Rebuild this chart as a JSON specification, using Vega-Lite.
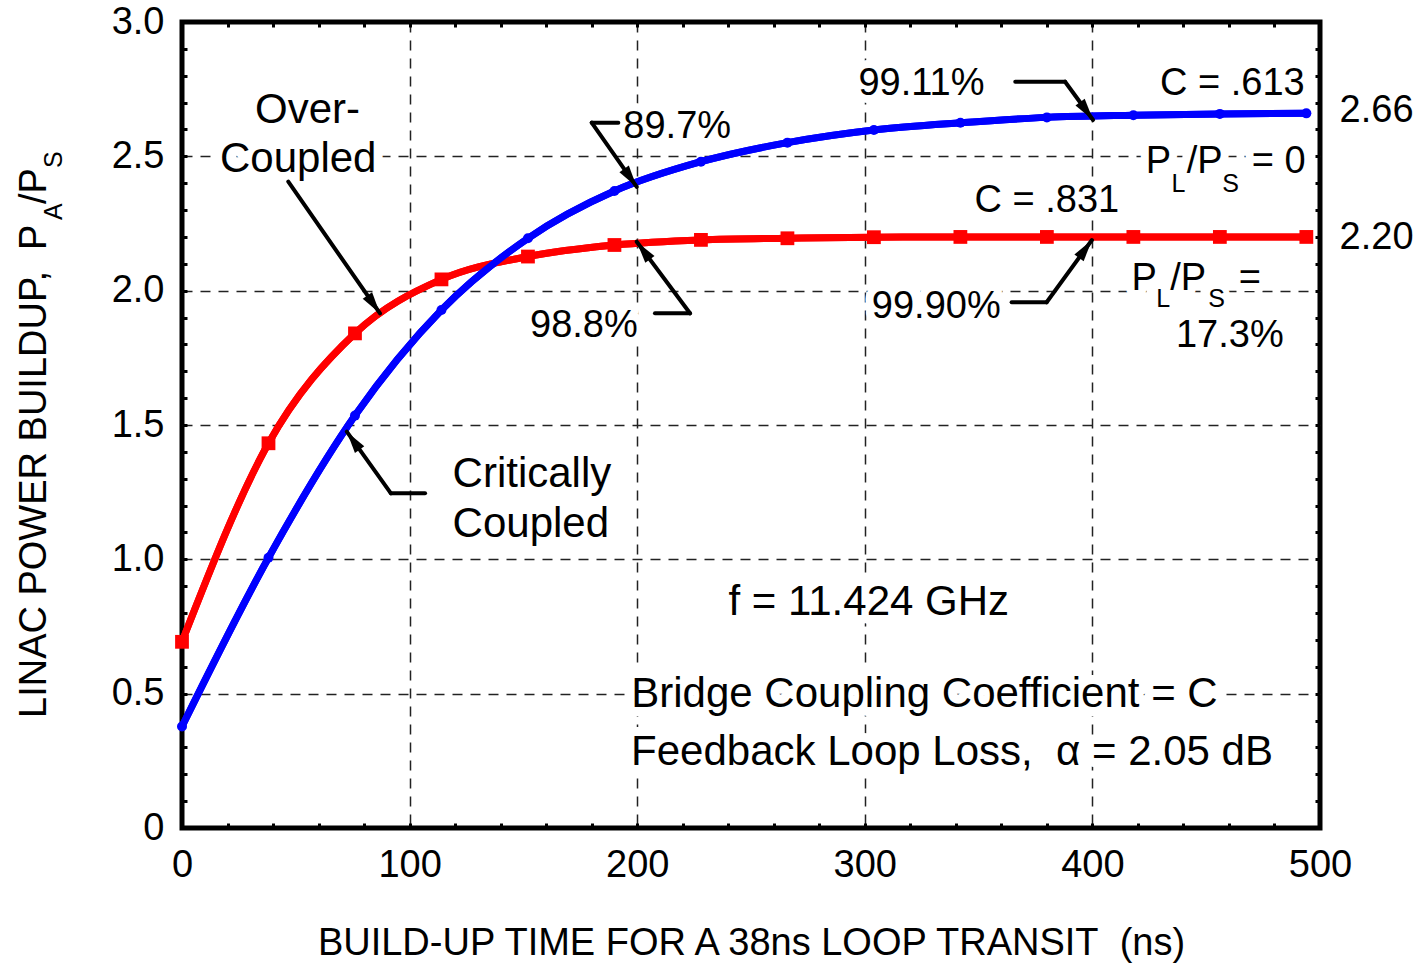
{
  "$schema": "https://vega.github.io/schema/vega-lite/v6.json",
  "width": 1138,
  "height": 806,
  "autosize": {"type": "none"},
  "padding": {"left": 182, "top": 22, "right": 103, "bottom": 138},
  "background": "white",
  "config": {
    "view": {"stroke": "black", "strokeWidth": 5},
    "text": {"font": "Liberation Sans", "color": "black"},
    "axis": {"labelFont": "Liberation Sans", "titleFont": "Liberation Sans"}
  },
  "datasets": {
    "curves": [
      {"series": "Over-Coupled", "time_ns": 0, "power": 0.693},
      {"series": "Over-Coupled", "time_ns": 38, "power": 1.432},
      {"series": "Over-Coupled", "time_ns": 76, "power": 1.841},
      {"series": "Over-Coupled", "time_ns": 114, "power": 2.042},
      {"series": "Over-Coupled", "time_ns": 152, "power": 2.127},
      {"series": "Over-Coupled", "time_ns": 190, "power": 2.17},
      {"series": "Over-Coupled", "time_ns": 228, "power": 2.189},
      {"series": "Over-Coupled", "time_ns": 266, "power": 2.195},
      {"series": "Over-Coupled", "time_ns": 304, "power": 2.199},
      {"series": "Over-Coupled", "time_ns": 342, "power": 2.2},
      {"series": "Over-Coupled", "time_ns": 380, "power": 2.2},
      {"series": "Over-Coupled", "time_ns": 418, "power": 2.2},
      {"series": "Over-Coupled", "time_ns": 456, "power": 2.2},
      {"series": "Over-Coupled", "time_ns": 494, "power": 2.2},
      {"series": "Critically Coupled", "time_ns": 0, "power": 0.378},
      {"series": "Critically Coupled", "time_ns": 38, "power": 1.006},
      {"series": "Critically Coupled", "time_ns": 76, "power": 1.535},
      {"series": "Critically Coupled", "time_ns": 114, "power": 1.928},
      {"series": "Critically Coupled", "time_ns": 152, "power": 2.195},
      {"series": "Critically Coupled", "time_ns": 190, "power": 2.371},
      {"series": "Critically Coupled", "time_ns": 228, "power": 2.48},
      {"series": "Critically Coupled", "time_ns": 266, "power": 2.551},
      {"series": "Critically Coupled", "time_ns": 304, "power": 2.598},
      {"series": "Critically Coupled", "time_ns": 342, "power": 2.625},
      {"series": "Critically Coupled", "time_ns": 380, "power": 2.645},
      {"series": "Critically Coupled", "time_ns": 418, "power": 2.653},
      {"series": "Critically Coupled", "time_ns": 456, "power": 2.658},
      {"series": "Critically Coupled", "time_ns": 494, "power": 2.66}
    ],
    "notes_big": [
      {"text": "Over-", "x": 32.1, "y": 2.623},
      {"text": "Coupled", "x": 16.7, "y": 2.443},
      {"text": "Critically", "x": 118.9, "y": 1.27},
      {"text": "Coupled", "x": 118.9, "y": 1.084},
      {"text": "f = 11.424 GHz", "x": 240.1, "y": 0.793},
      {"text": "Bridge Coupling Coefficient = C", "x": 197.4, "y": 0.4515},
      {"text": "Feedback Loop Loss,\u00a0 α = 2.05 dB", "x": 197.3, "y": 0.2345}
    ],
    "notes_small": [
      {"text": "89.7%", "x": 193.9, "y": 2.57},
      {"text": "98.8%", "x": 152.9, "y": 1.829},
      {"text": "99.11%", "x": 297.2, "y": 2.728},
      {"text": "C = .613", "x": 429.7, "y": 2.728},
      {"text": "C = .831", "x": 348.2, "y": 2.294},
      {"text": "99.90%", "x": 303.1, "y": 1.897},
      {"text": "17.3%", "x": 436.7, "y": 1.791},
      {"text": "2.66", "x": 508.6, "y": 2.629},
      {"text": "2.20", "x": 508.6, "y": 2.155},
      {"text": "P", "x": 423.4, "y": 2.437},
      {"text": "/P", "x": 441.4, "y": 2.437},
      {"text": "= 0", "x": 470.0, "y": 2.437},
      {"text": "P", "x": 417.2, "y": 2.0025},
      {"text": "/P", "x": 434.2, "y": 2.0025},
      {"text": "=", "x": 464.3, "y": 2.0025}
    ],
    "notes_sub": [
      {"text": "L", "x": 434.8, "y": 2.368},
      {"text": "S", "x": 457.1, "y": 2.368},
      {"text": "L", "x": 428.0, "y": 1.939},
      {"text": "S", "x": 450.9, "y": 1.939}
    ],
    "ytitle_main": [
      {"text": "LINAC POWER BUILDUP,\u00a0 P", "x": -59.75, "y": 0.4094},
      {"text": "/P", "x": -59.75, "y": 2.3225}
    ],
    "ytitle_sub": [
      {"text": "A", "x": -52.7, "y": 2.263},
      {"text": "S", "x": -52.7, "y": 2.4565}
    ],
    "arrows": [
      {"id": "over", "x": 46.7, "y": 2.4056, "x2": 87.0, "y2": 1.9152},
      {"id": "p897", "x": 180.0, "y": 2.6253, "x2": 191.7, "y2": 2.6253},
      {"id": "p897", "x": 180.0, "y": 2.6253, "x2": 199.8, "y2": 2.3862},
      {"id": "p988", "x": 207.8, "y": 1.9157, "x2": 223.2, "y2": 1.9157},
      {"id": "p988", "x": 223.2, "y": 1.9157, "x2": 199.8, "y2": 2.1822},
      {"id": "p9911", "x": 366.1, "y": 2.7778, "x2": 388.0, "y2": 2.7778},
      {"id": "p9911", "x": 388.0, "y": 2.7778, "x2": 400.3, "y2": 2.6353},
      {"id": "p9990", "x": 364.5, "y": 1.9567, "x2": 379.9, "y2": 1.9567},
      {"id": "p9990", "x": 379.9, "y": 1.9567, "x2": 399.8, "y2": 2.1886},
      {"id": "crit", "x": 91.8, "y": 1.2458, "x2": 106.8, "y2": 1.2458},
      {"id": "crit", "x": 91.8, "y": 1.2458, "x2": 72.4, "y2": 1.4751}
    ],
    "heads": [
      {"id": "over", "x": 87.0, "y": 1.9152},
      {"id": "p897", "x": 199.8, "y": 2.3862},
      {"id": "p988", "x": 199.8, "y": 2.1822},
      {"id": "p9911", "x": 400.3, "y": 2.6353},
      {"id": "p9990", "x": 399.8, "y": 2.1886},
      {"id": "crit", "x": 72.4, "y": 1.4751}
    ]
  },
  "encoding": {
    "x": {"field": "x", "type": "quantitative", "scale": {"domain": [0, 500], "nice": false, "zero": false}, "axis": null},
    "y": {"field": "y", "type": "quantitative", "scale": {"domain": [0, 3], "nice": false, "zero": false}, "axis": null}
  },
  "resolve": {"axis": {"x": "independent", "y": "independent"}},
  "layer": [
    {
      "data": {"name": "curves"},
      "transform": [{"filter": "datum.series === 'Over-Coupled'"}],
      "mark": {"type": "line", "color": "#ff0000", "strokeWidth": 7, "interpolate": "monotone"},
      "encoding": {
        "x": {
          "field": "time_ns", "type": "quantitative",
          "scale": {"domain": [0, 500], "nice": false, "zero": false},
          "axis": {
            "orient": "bottom",
            "values": [0, 20, 40, 60, 80, 100, 120, 140, 160, 180, 200, 220, 240, 260, 280, 300, 320, 340, 360, 380, 400, 420, 440, 460, 480, 500],
            "labelExpr": "datum.value % 100 === 0 ? datum.label : ''",
            "labelFontSize": 38, "labelColor": "black", "labelPadding": 23,
            "labelOverlap": false, "labelFlush": false, "labelBound": false,
            "tickSize": -5, "tickWidth": 3, "tickColor": "black",
            "domain": false,
            "grid": true, "gridColor": "#222222", "gridWidth": 1.5, "gridDash": [10, 8],
            "gridOpacity": {"condition": {"test": "datum.value % 100 === 0 && datum.value > 0 && datum.value < 500", "value": 1}, "value": 0},
            "title": "BUILD-UP TIME FOR A 38ns LOOP TRANSIT\u00a0 (ns)",
            "titleFontSize": 38, "titleFontWeight": "normal", "titleColor": "black", "titlePadding": 40
          }
        },
        "y": {
          "field": "power", "type": "quantitative",
          "scale": {"domain": [0, 3], "nice": false, "zero": false},
          "axis": {
            "orient": "left",
            "values": [0, 0.1, 0.2, 0.3, 0.4, 0.5, 0.6, 0.7, 0.8, 0.9, 1, 1.1, 1.2, 1.3, 1.4, 1.5, 1.6, 1.7, 1.8, 1.9, 2, 2.1, 2.2, 2.3, 2.4, 2.5, 2.6, 2.7, 2.8, 2.9, 3],
            "labelExpr": "abs(datum.value * 2 - round(datum.value * 2)) < 0.001 ? (datum.value == 0 ? '0' : format(datum.value, '.1f')) : ''",
            "labelFontSize": 38, "labelColor": "black", "labelPadding": 23,
            "labelOverlap": false, "labelFlush": false, "labelBound": false,
            "tickSize": -5, "tickWidth": 3, "tickColor": "black",
            "domain": false,
            "grid": true, "gridColor": "#222222", "gridWidth": 1.5, "gridDash": [10, 8],
            "gridOpacity": {"condition": {"test": "abs(datum.value * 2 - round(datum.value * 2)) < 0.001 && datum.value > 0.01 && datum.value < 2.99", "value": 1}, "value": 0},
            "title": null
          }
        }
      }
    },
    {
      "data": {"name": "curves"},
      "transform": [{"filter": "datum.series === 'Critically Coupled'"}],
      "mark": {"type": "line", "color": "#0000ff", "strokeWidth": 7, "interpolate": "monotone"},
      "encoding": {
        "x": {
          "field": "time_ns", "type": "quantitative",
          "scale": {"domain": [0, 500], "nice": false, "zero": false},
          "axis": {
            "orient": "top",
            "values": [0, 20, 40, 60, 80, 100, 120, 140, 160, 180, 200, 220, 240, 260, 280, 300, 320, 340, 360, 380, 400, 420, 440, 460, 480, 500],
            "labels": false, "tickSize": -5, "tickWidth": 3, "tickColor": "black",
            "domain": false, "grid": false, "title": null
          }
        },
        "y": {
          "field": "power", "type": "quantitative",
          "scale": {"domain": [0, 3], "nice": false, "zero": false},
          "axis": {
            "orient": "right",
            "values": [0, 0.1, 0.2, 0.3, 0.4, 0.5, 0.6, 0.7, 0.8, 0.9, 1, 1.1, 1.2, 1.3, 1.4, 1.5, 1.6, 1.7, 1.8, 1.9, 2, 2.1, 2.2, 2.3, 2.4, 2.5, 2.6, 2.7, 2.8, 2.9, 3],
            "labels": false, "tickSize": -5, "tickWidth": 3, "tickColor": "black",
            "domain": false, "grid": false, "title": null
          }
        }
      }
    },
    {
      "data": {"name": "notes_big"},
      "mark": {"type": "text", "align": "left", "baseline": "alphabetic", "fontSize": 42, "fill": "white", "stroke": "white", "strokeWidth": 18, "strokeJoin": "round"},
      "encoding": {"text": {"field": "text"}}
    },
    {
      "data": {"name": "notes_small"},
      "mark": {"type": "text", "align": "left", "baseline": "alphabetic", "fontSize": 38, "fill": "white", "stroke": "white", "strokeWidth": 16, "strokeJoin": "round"},
      "encoding": {"text": {"field": "text"}}
    },
    {
      "data": {"name": "notes_sub"},
      "mark": {"type": "text", "align": "left", "baseline": "alphabetic", "fontSize": 25, "fill": "white", "stroke": "white", "strokeWidth": 12, "strokeJoin": "round"},
      "encoding": {"text": {"field": "text"}}
    },
    {
      "data": {"name": "curves"},
      "transform": [{"filter": "datum.series === 'Over-Coupled'"}],
      "mark": {"type": "line", "color": "#ff0000", "strokeWidth": 7, "interpolate": "monotone"},
      "encoding": {
        "x": {"field": "time_ns", "type": "quantitative", "scale": {"domain": [0, 500], "nice": false, "zero": false}, "axis": null},
        "y": {"field": "power", "type": "quantitative", "scale": {"domain": [0, 3], "nice": false, "zero": false}, "axis": null}
      }
    },
    {
      "data": {"name": "curves"},
      "transform": [{"filter": "datum.series === 'Critically Coupled'"}],
      "mark": {"type": "line", "color": "#0000ff", "strokeWidth": 7, "interpolate": "monotone"},
      "encoding": {
        "x": {"field": "time_ns", "type": "quantitative", "scale": {"domain": [0, 500], "nice": false, "zero": false}, "axis": null},
        "y": {"field": "power", "type": "quantitative", "scale": {"domain": [0, 3], "nice": false, "zero": false}, "axis": null}
      }
    },
    {
      "data": {"name": "curves"},
      "transform": [{"filter": "datum.series === 'Over-Coupled'"}],
      "mark": {"type": "point", "shape": "square", "filled": true, "color": "#ff0000", "size": 190, "opacity": 1},
      "encoding": {
        "x": {"field": "time_ns", "type": "quantitative", "scale": {"domain": [0, 500], "nice": false, "zero": false}, "axis": null},
        "y": {"field": "power", "type": "quantitative", "scale": {"domain": [0, 3], "nice": false, "zero": false}, "axis": null}
      }
    },
    {
      "data": {"name": "curves"},
      "transform": [{"filter": "datum.series === 'Critically Coupled'"}],
      "mark": {"type": "point", "shape": "circle", "filled": true, "color": "#0000ff", "size": 100, "opacity": 1},
      "encoding": {
        "x": {"field": "time_ns", "type": "quantitative", "scale": {"domain": [0, 500], "nice": false, "zero": false}, "axis": null},
        "y": {"field": "power", "type": "quantitative", "scale": {"domain": [0, 3], "nice": false, "zero": false}, "axis": null}
      }
    },
    {
      "data": {"name": "arrows"},
      "mark": {"type": "rule", "color": "black", "strokeWidth": 4, "strokeCap": "round"},
      "encoding": {
        "x2": {"field": "x2"},
        "y2": {"field": "y2"}
      }
    },
    {
      "data": {"name": "heads"},
      "transform": [{"filter": "datum.id === 'over'"}],
      "mark": {"type": "point", "shape": "M0,0L-0.26,1L0.26,1Z", "filled": true, "color": "black", "opacity": 1, "size": 1936, "angle": 145}
    },
    {
      "data": {"name": "heads"},
      "transform": [{"filter": "datum.id === 'p897'"}],
      "mark": {"type": "point", "shape": "M0,0L-0.26,1L0.26,1Z", "filled": true, "color": "black", "opacity": 1, "size": 1936, "angle": 145}
    },
    {
      "data": {"name": "heads"},
      "transform": [{"filter": "datum.id === 'p988'"}],
      "mark": {"type": "point", "shape": "M0,0L-0.26,1L0.26,1Z", "filled": true, "color": "black", "opacity": 1, "size": 1936, "angle": 323.3}
    },
    {
      "data": {"name": "heads"},
      "transform": [{"filter": "datum.id === 'p9911'"}],
      "mark": {"type": "point", "shape": "M0,0L-0.26,1L0.26,1Z", "filled": true, "color": "black", "opacity": 1, "size": 1936, "angle": 143.8}
    },
    {
      "data": {"name": "heads"},
      "transform": [{"filter": "datum.id === 'p9990'"}],
      "mark": {"type": "point", "shape": "M0,0L-0.26,1L0.26,1Z", "filled": true, "color": "black", "opacity": 1, "size": 1936, "angle": 36}
    },
    {
      "data": {"name": "heads"},
      "transform": [{"filter": "datum.id === 'crit'"}],
      "mark": {"type": "point", "shape": "M0,0L-0.26,1L0.26,1Z", "filled": true, "color": "black", "opacity": 1, "size": 1936, "angle": 324.3}
    },
    {
      "data": {"name": "notes_big"},
      "mark": {"type": "text", "align": "left", "baseline": "alphabetic", "fontSize": 42},
      "encoding": {"text": {"field": "text"}}
    },
    {
      "data": {"name": "notes_small"},
      "mark": {"type": "text", "align": "left", "baseline": "alphabetic", "fontSize": 38},
      "encoding": {"text": {"field": "text"}}
    },
    {
      "data": {"name": "notes_sub"},
      "mark": {"type": "text", "align": "left", "baseline": "alphabetic", "fontSize": 25},
      "encoding": {"text": {"field": "text"}}
    },
    {
      "data": {"name": "ytitle_main"},
      "mark": {"type": "text", "align": "left", "baseline": "alphabetic", "fontSize": 38, "angle": 270},
      "encoding": {"text": {"field": "text"}}
    },
    {
      "data": {"name": "ytitle_sub"},
      "mark": {"type": "text", "align": "left", "baseline": "alphabetic", "fontSize": 25, "angle": 270},
      "encoding": {"text": {"field": "text"}}
    }
  ]
}
